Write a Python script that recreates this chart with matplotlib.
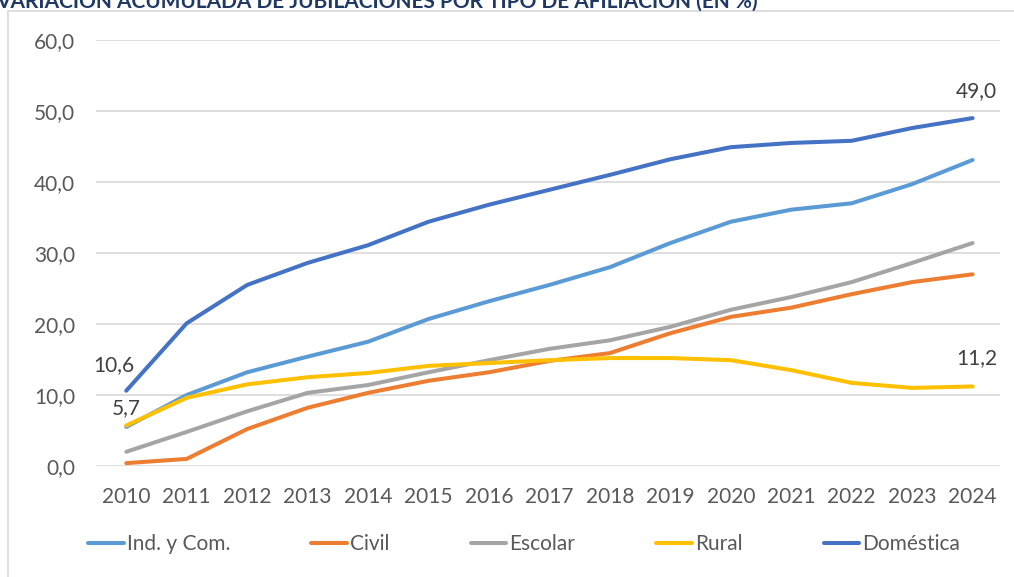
import matplotlib.pyplot as plt
from matplotlib.patches import Rectangle

years = list(range(2010, 2025))
ind_com = [5.5, 10.0, 13.2, 15.4, 17.5, 20.7, 23.2, 25.5, 28.0, 31.4, 34.4, 36.1, 37.0, 39.7, 43.1]
civil = [0.4, 1.0, 5.2, 8.2, 10.3, 12.0, 13.2, 14.8, 15.9, 18.7, 21.0, 22.3, 24.2, 25.9, 27.0]
escolar = [2.0, 4.8, 7.7, 10.3, 11.4, 13.2, 14.9, 16.5, 17.7, 19.6, 22.0, 23.8, 25.9, 28.6, 31.4]
rural = [5.7, 9.6, 11.5, 12.5, 13.1, 14.1, 14.5, 14.9, 15.2, 15.2, 14.9, 13.5, 11.7, 11.0, 11.2]
domestica = [10.6, 20.1, 25.5, 28.6, 31.1, 34.4, 36.8, 38.9, 41.0, 43.2, 44.9, 45.5, 45.8, 47.6, 49.0]

series = [
    ("Ind. y Com.", ind_com, "#5B9BD5"),
    ("Civil", civil, "#ED7D31"),
    ("Escolar", escolar, "#A5A5A5"),
    ("Rural", rural, "#FFC000"),
    ("Doméstica", domestica, "#4472C4"),
]

plt.rcParams["font.family"] = ["Lato", "DejaVu Sans"]
text_color = "#595959"

fig = plt.figure(figsize=(10.14, 5.77), dpi=100)
ax = fig.add_axes([0.0947, 0.1924, 0.8913, 0.7383])

for name, vals, color in series:
    ax.plot(years, vals, color=color, linewidth=2.9, label=name, solid_capstyle="round")

ax.set_xlim(2009.5, 2024.45)
ax.set_ylim(0, 60)
ax.set_yticks(range(0, 61, 10))
ax.set_yticklabels([f"{v:.1f}".replace(".", ",") for v in range(0, 61, 10)])
ax.set_xticks(years)
ax.tick_params(length=0, labelsize=15, labelcolor=text_color)
ax.tick_params(axis="y", pad=15)
ax.tick_params(axis="x", pad=15)
ax.grid(axis="y", color="#d9d9d9", linewidth=1.2)
ax.set_axisbelow(True)
for s in ax.spines.values():
    s.set_visible(False)

def fmt(v):
    return f"{v:.1f}".replace(".", ",")

ax.annotate(fmt(domestica[0]), (years[0], domestica[0]), xytext=(-9, 14),
            textcoords="offset points", ha="center", fontsize=15, color="#404040")
ax.annotate(fmt(rural[0]), (years[0], rural[0]), xytext=(0, 8),
            textcoords="offset points", ha="center", fontsize=15, color="#404040")
ax.annotate(fmt(domestica[-1]), (years[-1], domestica[-1]), xytext=(3, 15),
            textcoords="offset points", ha="center", fontsize=15, color="#404040")
ax.annotate(fmt(rural[-1]), (years[-1], rural[-1]), xytext=(3, 16),
            textcoords="offset points", ha="center", fontsize=15, color="#404040")

fig.legend(loc="center", bbox_to_anchor=(0.517, 1 - 544 / 577), ncol=5, frameon=False,
           fontsize=15, handlelength=1.7, handletextpad=0.15, columnspacing=3.9,
           labelcolor=text_color)

# chart border
fig.patches.append(Rectangle((8 / 1014, -0.01), 1.0, 1 - 11 / 577 + 0.01,
                             transform=fig.transFigure, fill=False,
                             edgecolor="#d9d9d9", linewidth=1.2))

fig.text(-0.004, 1.0, "VARIACIÓN ACUMULADA DE JUBILACIONES POR TIPO DE AFILIACIÓN (EN %)",
         fontsize=15, fontweight="bold", color="#1F3864", va="center", ha="left")

fig.savefig("out.png", dpi=100)
